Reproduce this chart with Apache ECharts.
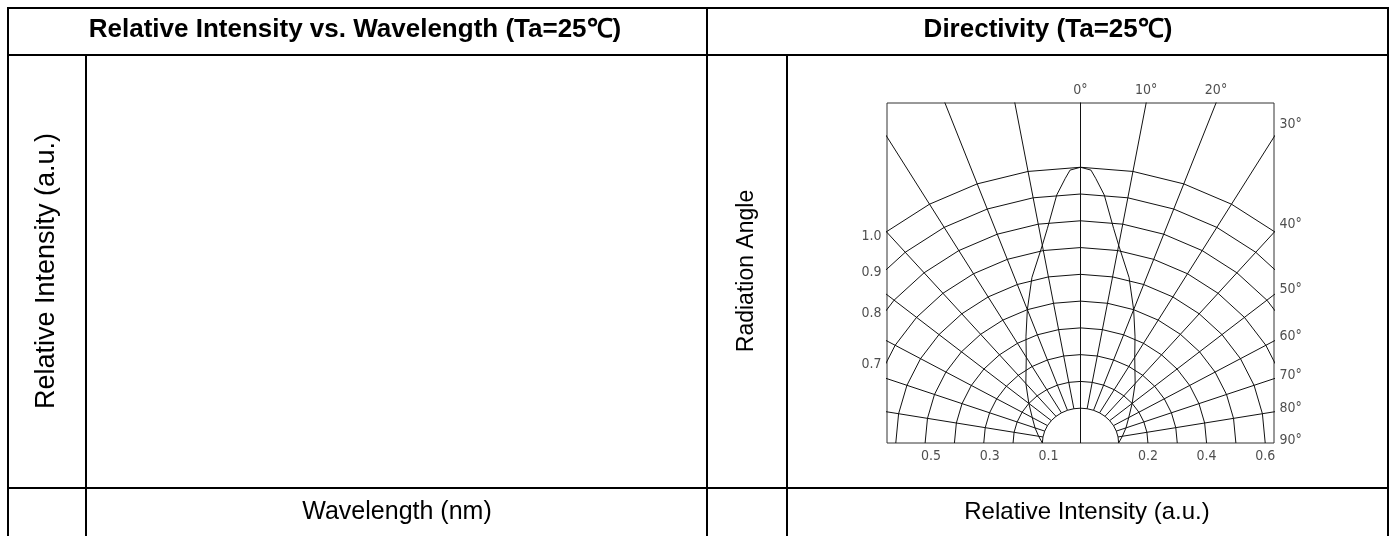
<!DOCTYPE html>
<html>
<head>
<meta charset="UTF-8">
<title>Directivity</title>
<script src="https://cdn.jsdelivr.net/npm/echarts@6/dist/echarts.min.js"></script>
<style>
  html, body { margin: 0; padding: 0; background: #fff; }
  #main { width: 1392px; height: 536px; }
</style>
</head>
<body>
<div id="main"></div>
<script>
// rings of the polar grid (relative intensity), angle lines, tick labels
var ringValues = [0.1, 0.2, 0.3, 0.4, 0.5, 0.6, 0.7, 0.8, 0.9, 1.0];
var gridAngles = [0, 10, 20, 30, 40, 50, 60, 70, 80, 90];
var leftEdgeLabels = [1.0, 0.9, 0.8, 0.7];
var bottomLeftLabels = [0.5, 0.3, 0.1];
var bottomRightLabels = [0.2, 0.4, 0.6];

// radiation pattern (angle in deg, intensity on the ring scale)
var lobeAngle = [0, 2, 3, 5, 8, 10, 15, 20, 25, 30, 40, 50, 60, 70, 80, 90];
var lobeValue = [1.00, 0.99, 0.96, 0.90, 0.78, 0.72, 0.61, 0.50, 0.41, 0.34, 0.26, 0.20, 0.16, 0.135, 0.115, 0.10];

var RING_OFFSET = 0.03;   // ring 0.1 sits a little off the centre
var X_HALF = 0.66;
var Y_TOP = 1.27;
var D = Math.PI / 180;

function polar(angle, r) {
    return [r * Math.sin(angle * D), r * Math.cos(angle * D)];
}

function lineSeries(points) {
    return {
        type: 'line',
        data: points,
        symbol: 'none',
        silent: true,
        clip: true,
        lineStyle: { color: '#111', width: 1 }
    };
}

var series = [];

// rings
ringValues.forEach(function (v) {
    var pts = [];
    for (var a = -90; a <= 90; a += 10) pts.push(polar(a, v + RING_OFFSET));
    series.push(lineSeries(pts));
});

// angle lines
gridAngles.forEach(function (a) {
    if (a === 90) return;
    if (a === 0) {
        series.push(lineSeries([[0, 0], [0, 3]]));
        return;
    }
    var r0 = ringValues[0] + RING_OFFSET;
    series.push(lineSeries([polar(a, r0), polar(a, 3)]));
    series.push(lineSeries([polar(-a, r0), polar(-a, 3)]));
});

// pattern
var lobe = [];
for (var i = lobeAngle.length - 1; i > 0; i--) lobe.push(polar(-lobeAngle[i], lobeValue[i] + RING_OFFSET));
for (var j = 0; j < lobeAngle.length; j++) lobe.push(polar(lobeAngle[j], lobeValue[j] + RING_OFFSET));
series.push(lineSeries(lobe));

// tick labels
var labelFont = {
    color: '#222',
    fontSize: 14,
    fontFamily: '"Liberation Sans Narrow","DejaVu Sans Condensed",sans-serif'
};
var labels = [];
gridAngles.forEach(function (a) {
    var s = Math.sin(a * D), c = Math.cos(a * D);
    var txt = a + '\u00b0';
    if (s === 0 || Y_TOP / c < X_HALF / s) {
        labels.push({ value: [Y_TOP * Math.tan(a * D), Y_TOP], label: { formatter: txt, position: 'top', distance: 5 } });
    } else {
        labels.push({ value: [X_HALF, X_HALF / Math.tan((a - 1) * D)], label: { formatter: txt, position: 'right', distance: 5 } });
    }
});
leftEdgeLabels.forEach(function (v) {
    var r = v + RING_OFFSET;
    labels.push({ value: [-X_HALF, Math.sqrt(r * r - X_HALF * X_HALF)], label: { formatter: v.toFixed(1), position: 'left', distance: 5, offset: [0, 5] } });
});
bottomLeftLabels.forEach(function (v) {
    labels.push({ value: [-(v + RING_OFFSET), 0], label: { formatter: v.toFixed(1), position: 'bottom', distance: 6, offset: [6, 0] } });
});
bottomRightLabels.forEach(function (v) {
    labels.push({ value: [v + RING_OFFSET, 0], label: { formatter: v.toFixed(1), position: 'bottom', distance: 6 } });
});
series.push({
    type: 'scatter',
    data: labels,
    symbolSize: 1,
    clip: false,
    silent: true,
    itemStyle: { color: 'rgba(0,0,0,0)' },
    label: Object.assign({ show: true }, labelFont)
});

// table frame around both panels
var frame = [
    [7, 8, 1389, 8], [8, 7, 8, 536], [1388, 7, 1388, 536],
    [7, 55, 1389, 55], [7, 488, 1389, 488],
    [86, 55, 86, 536], [707, 7, 707, 536], [787, 55, 787, 536]
];
var graphic = frame.map(function (f) {
    return { type: 'line', shape: { x1: f[0], y1: f[1], x2: f[2], y2: f[3] }, style: { stroke: '#000', lineWidth: 2 }, silent: true };
});
function txt(x, y, text, font, rot) {
    return {
        type: 'text', x: x, y: y, rotation: rot || 0, silent: true,
        style: { text: text, font: font, fill: '#000', textAlign: 'center', textVerticalAlign: 'middle' }
    };
}
var FAMILY = ' "Liberation Sans", Arial, sans-serif';
graphic.push(txt(355, 30, 'Relative Intensity vs. Wavelength (Ta=25\u2103)', 'bold 26px' + FAMILY));
graphic.push(txt(1048, 30, 'Directivity (Ta=25\u2103)', 'bold 26px' + FAMILY));
graphic.push(txt(397, 512, 'Wavelength (nm)', '25px' + FAMILY));
graphic.push(txt(1087, 512, 'Relative Intensity (a.u.)', '24px' + FAMILY));
graphic.push(txt(47, 271, 'Relative Intensity (a.u.)', '27px' + FAMILY, Math.PI / 2));
graphic.push(txt(747, 271, 'Radiation Angle', '23px' + FAMILY, Math.PI / 2));

var myChart = echarts.init(document.getElementById('main'));
var option = {
    animation: false,
    backgroundColor: '#fff',
    grid: { left: 887, top: 103, width: 387, height: 340, show: true, borderColor: '#333', borderWidth: 1, backgroundColor: 'transparent' },
    xAxis: { type: 'value', min: -X_HALF, max: X_HALF, show: false },
    yAxis: { type: 'value', min: 0, max: Y_TOP, show: false },
    graphic: graphic,
    series: series
};
myChart.setOption(option);
</script>
</body>
</html>
